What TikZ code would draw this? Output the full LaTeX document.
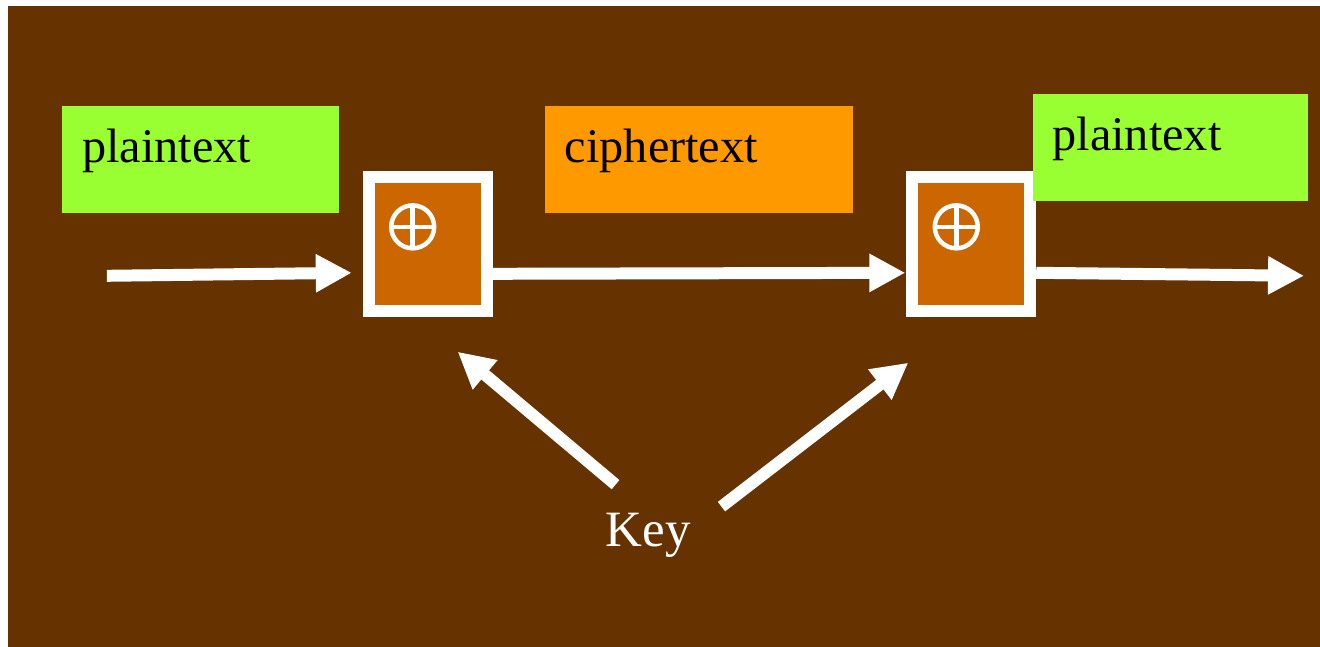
\documentclass[tikz,border=0pt]{standalone}
\usepackage{fontspec}
\setmainfont{Liberation Serif}
\usetikzlibrary{arrows.meta}
\definecolor{bgbrown}{HTML}{663300}
\definecolor{leafgreen}{HTML}{99FF33}
\definecolor{amber}{HTML}{FF9900}
\definecolor{rust}{HTML}{CC6600}
\begin{document}
\begin{tikzpicture}[
x=0.02cm, y=-0.02cm,
tag/.style={anchor=north west, inner xsep=0.4cm, inner ysep=0, text height=1.12cm, text depth=1.02cm, align=left, font=\fontsize{27.5}{33}\selectfont},
xorbox/.style={rectangle, draw=white, fill=rust, line width=0.24cm, inner sep=0, outer sep=0.12cm, minimum width=2.36cm, minimum height=2.68cm},
xorsign/.style={draw=white, line width=0.09cm},
flow/.style={draw=white, line width=0.24cm, -{Triangle[length=0.72cm,width=0.72cm]}},
]
\fill[white] (0,0) rectangle (1320,646);
\fill[bgbrown] (8,6) rectangle (1321,647);
\useasboundingbox (0,0) rectangle (1320,646);
\node[tag, fill=leafgreen, text width=4.74cm](plain1) at (62,106){plaintext};
\node[tag, fill=amber, text width=5.36cm](cipher) at (545,106){ciphertext};
\node[xorbox](xor1) at (428,244){};
\node[xorbox](xor2) at (972,244){};
\node[tag, fill=leafgreen, text width=4.72cm](plain2) at (1033,94){plaintext};
\node[anchor=base west, inner sep=0, text=white, font=\fontsize{29}{35}\selectfont](key) at (606,547){Key};
\foreach \b in {xor1,xor2}{
  \coordinate (\b-x) at ([shift={(-15,-17)}]\b.center);
  \draw[xorsign] (\b-x) circle[radius=0.43cm];
  \draw[xorsign] (\b-x) ++(-20,0) -- ++(40,0) (\b-x) ++(0,-20) -- ++(0,40);
}
\coordinate (in) at (107,276);
\coordinate (out) at (1305,276);
\draw[flow] (in) -- ([shift={(-11,29)}]xor1.west);
\draw[flow] ([shift={(0,30)}]xor1.east) -- ([shift={(-1,29)}]xor2.west);
\draw[flow] ([shift={(0,29)}]xor2.east) -- (out);
\draw[flow] ([shift={(10,-62)}]key.base west) -- ([shift={(30,35)}]xor1.south);
\draw[flow] ([shift={(116,-40)}]key.base west) -- ([shift={(-63,46)}]xor2.south);
\end{tikzpicture}
\end{document}
